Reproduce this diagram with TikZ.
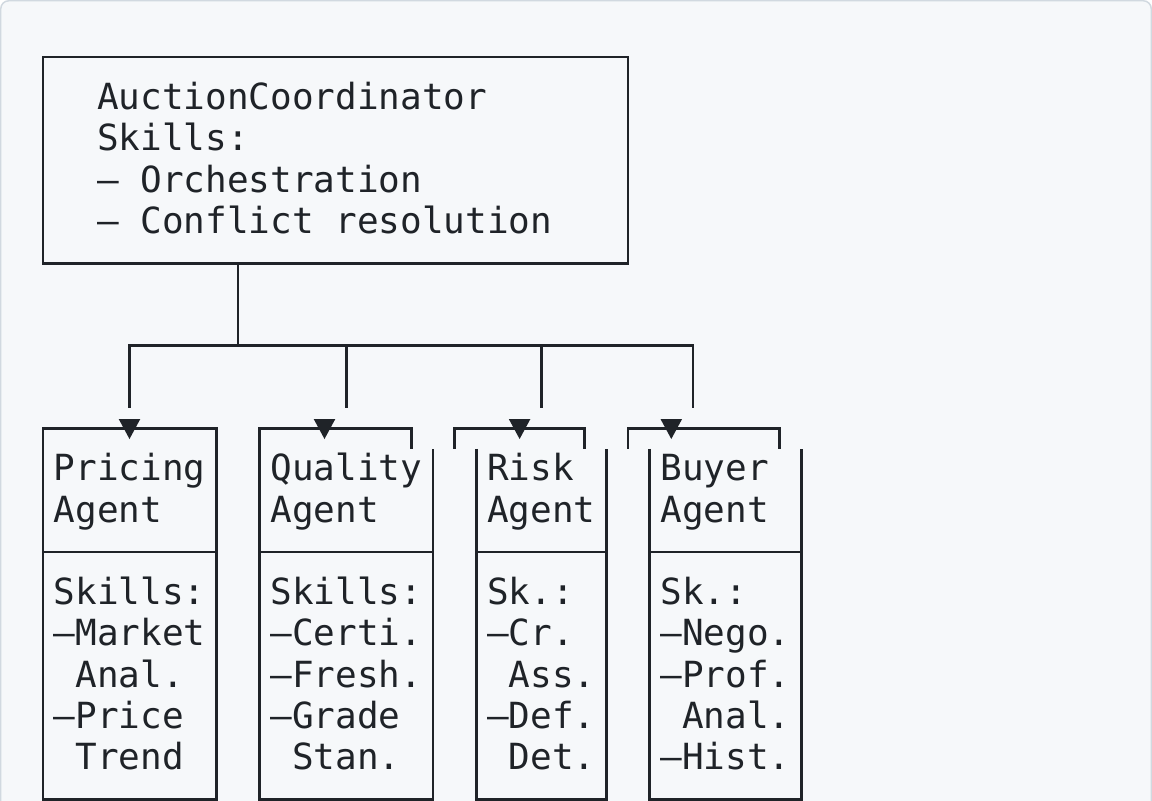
\documentclass[tikz,border=0pt]{standalone}
\usepackage{fontspec}
\newfontfamily\mono{DejaVu Sans Mono}
\definecolor{ink}{HTML}{1F2328}
\definecolor{paper}{HTML}{F6F8FA}
\definecolor{rim}{HTML}{D1D9E0}
% grid: one unit = 1px; column c starts at 32+21.67c, row r centre at 57+41.25r
\newcommand\linetext[4]{\node[txt] (#1) at ({32+21.67*(#2)},{68.3+41.25*(#3)}) {#4};}
\begin{document}
\begin{tikzpicture}[x=0.75pt,y=-0.75pt,
  wire/.style={draw=ink, line width=1.95pt, line join=miter},
  txt/.style={anchor=base west, inner sep=0pt, outer sep=0pt, text=ink,
              font=\mono\fontsize{27pt}{31pt}\selectfont},
  body/.style={inner sep=0pt, outer sep=0pt},
  head/.style={fill=ink}]
\useasboundingbox (0,0) rectangle (1152,800);
\begin{scope}
\clip (0,0) rectangle (1152,800);
\fill[white] (0,0) rectangle (1152,800);
\draw[draw=rim, fill=paper, line width=1.1pt, rounded corners=6] (0.75,0.75) rectangle (1151.25,840);

% coordinator box
\node[body, draw=ink, line width=1.95pt, minimum width=438.8pt, minimum height=154.7pt]
  (coord) at (335.35,160.125) {};
\linetext{c1}{3}{1}{AuctionCoordinator}
\linetext{c2}{3}{2}{Skills:}
\linetext{c3}{3}{3}{– Orchestration}
\linetext{c4}{3}{4}{– Conflict resolution}

% agent bodies (rows 10..18)
\coordinate (sep) at (0,552);
\node[body, minimum width=130.05pt, minimum height=262.95pt] (pricing) at (129.5,624.2) {};
\node[body, minimum width=130.05pt, minimum height=262.95pt] (quality) at (346.2,624.2) {};
\node[body, minimum width=97.58pt,  minimum height=262.95pt] (risk)    at (541.25,624.2) {};
\node[body, minimum width=113.78pt, minimum height=262.95pt] (buyer)   at (725.45,624.2) {};
\foreach \b in {pricing,quality,risk,buyer}{
  \draw[wire] (\b.north west) -- (\b.south west) -- (\b.south east) -- (\b.north east);
  \draw[wire] (\b.west |- sep) -- (\b.east |- sep);
}

% open brackets above the bodies
\draw[wire] (42.8,448.9)  |- (216.2,428.25) -- (216.2,448.9);
\draw[wire] (259.5,448.9) |- (411.2,428.25) -- (411.2,448.9);
\draw[wire] (454.6,448.9) |- (584.6,428.25) -- (584.6,448.9);
\draw[wire] (627.9,448.9) |- (779.6,428.25) -- (779.6,448.9);

% pricing text
\linetext{p1}{1}{10}{Pricing}
\linetext{p2}{1}{11}{Agent}
\linetext{p3}{1}{13}{Skills:}
\linetext{p4}{1}{14}{–Market}
\linetext{p5}{2}{15}{Anal.}
\linetext{p6}{1}{16}{–Price}
\linetext{p7}{2}{17}{Trend}
% quality text
\linetext{q1}{11}{10}{Quality}
\linetext{q2}{11}{11}{Agent}
\linetext{q3}{11}{13}{Skills:}
\linetext{q4}{11}{14}{–Certi.}
\linetext{q5}{11}{15}{–Fresh.}
\linetext{q6}{11}{16}{–Grade}
\linetext{q7}{12}{17}{Stan.}
% risk text
\linetext{r1}{21}{10}{Risk}
\linetext{r2}{21}{11}{Agent}
\linetext{r3}{21}{13}{Sk.:}
\linetext{r4}{21}{14}{–Cr.}
\linetext{r5}{22}{15}{Ass.}
\linetext{r6}{21}{16}{–Def.}
\linetext{r7}{22}{17}{Det.}
% buyer text
\linetext{b1}{29}{10}{Buyer}
\linetext{b2}{29}{11}{Agent}
\linetext{b3}{29}{13}{Sk.:}
\linetext{b4}{29}{14}{–Nego.}
\linetext{b5}{29}{15}{–Prof.}
\linetext{b6}{30}{16}{Anal.}
\linetext{b7}{29}{17}{–Hist.}

% connectors: stem, bus and drops
\coordinate (hub) at (237.9,345.75);
\coordinate (drop1) at (129.5,407.6);
\coordinate (drop2) at (346.2,407.6);
\coordinate (drop3) at (541.2,407.6);
\coordinate (drop4) at (692.9,407.6);
\draw[wire] (coord.south -| hub) -- (hub);
\draw[wire] (hub) -| (drop1);
\draw[wire] (hub) -| (drop2);
\draw[wire] (hub) -| (drop3);
\draw[wire] (hub) -| (drop4);

% arrow heads on the brackets
\coordinate (tip1) at (129.5,429);
\coordinate (tip2) at (324.5,429);
\coordinate (tip3) at (519.6,429);
\coordinate (tip4) at (671.3,429);
\foreach \t in {tip1,tip2,tip3,tip4}{
  \fill[head] (\t) ++(-10.8,-10) -- ++(21.6,0) -- ++(-10.8,20) -- cycle;
}
\end{scope}
\end{tikzpicture}
\end{document}
